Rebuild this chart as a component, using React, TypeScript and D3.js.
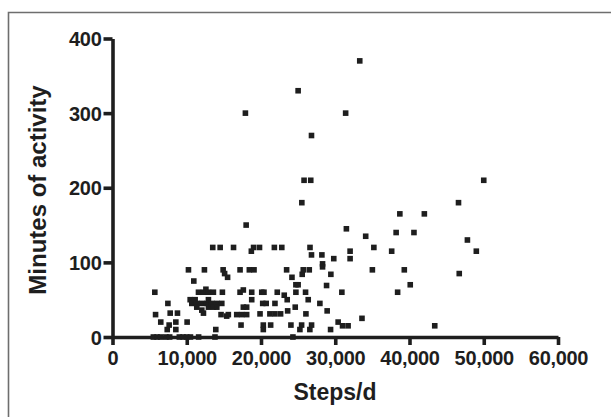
import React, { useEffect, useRef } from "react";
import * as d3 from "d3";

const W = 611, H = 417;

// steps per day
const steps = [
  5500, 6000, 6500, 7200, 7700, 9000, 9500, 10000, 10500, 11600, 13800, 24300,
  5700, 5800, 6500, 7460, 7370, 7630, 7770, 8530, 8750, 8530, 10050, 10230,
  10460, 10680, 10950, 11130, 11350, 11350, 11580, 12030, 12030, 12250, 12250, 12380,
  12700, 12580, 12920, 12920, 12920, 13370, 13500, 13590, 13590, 13910, 14050, 14050,
  14500, 14620, 14720, 14800, 14900, 15100, 15380, 15600, 15500, 16300, 16730, 17180,
  17180, 17310, 17400, 17620, 17620, 17900, 18000, 18070, 18070, 18430, 18700, 18750,
  18750, 19000, 19060, 19800, 19870, 20100, 20310, 20310, 20400, 20230, 20700, 21300,
  21200, 21880, 21800, 21880, 22190, 22640, 22800, 23130, 23450, 23530, 23590, 24030,
  24170, 24610, 24700, 25000, 24700, 25000, 25550, 25500, 25690, 25800, 26000, 25470,
  25240, 26050, 26360, 26500, 26580, 26600, 26700, 26810, 26800, 26800, 27930, 28200,
  28290, 28290, 28910, 28830, 29370, 29410, 29800, 30390, 30890, 30980, 31400, 31500,
  31730, 32000, 32000, 33300, 33600, 34100, 35000, 35200, 37600, 38200, 38400, 38700,
  39300, 40100, 40600, 42000, 43400, 46600, 46700, 47800, 49000, 50000,
];

// minutes of activity
const minutes = [
  0, 0, 0, 0, 0, 0, 0, 0, 0, 0, 0, 0,
  60, 30, 20, 45, 10, 16, 32, 20, 32, 10, 20, 90,
  50, 45, 75, 50, 45, 40, 60, 36, 45, 32, 60, 90,
  45, 64, 60, 50, 40, 45, 120, 60, 40, 10, 45, 40,
  120, 30, 45, 60, 90, 85, 28, 30, 80, 120, 30, 90,
  60, 16, 30, 63, 40, 300, 150, 30, 40, 90, 115, 50,
  60, 120, 90, 120, 31, 60, 16, 10, 60, 45, 45, 16,
  31, 45, 120, 31, 60, 31, 120, 56, 90, 50, 35, 16,
  80, 40, 70, 70, 60, 330, 84, 180, 90, 210, 60, 16,
  10, 31, 50, 90, 10, 120, 210, 16, 270, 110, 45, 110,
  98, 94, 35, 69, 10, 84, 105, 20, 60, 15, 300, 145,
  15, 115, 105, 370, 25, 135, 90, 120, 115, 140, 60, 165,
  90, 70, 140, 165, 15, 180, 85, 130, 115, 210,
];

const xTicks = [0, 10000, 20000, 30000, 40000, 50000, 60000];
const yTicks = [0, 100, 200, 300, 400];

const FONT = "'Liberation Sans', Arial, sans-serif";
const INK = "#1e1e1e";

export default function App() {
  const ref = useRef<SVGSVGElement>(null);

  useEffect(() => {
    const svg = d3.select(ref.current);
    svg.selectAll("*").remove();

    const x = d3.scaleLinear().domain([0, 60000]).range([112.5, 558]);
    const y = d3.scaleLinear().domain([0, 400]).range([337, 38.5]);

    // frame (top and left edges only)
    svg.append("path")
      .attr("d", `M8.5,${H} V12.5 H${W}`)
      .attr("fill", "none")
      .attr("stroke", "#6e6e6e")
      .attr("stroke-width", 1.6);

    const fmt = d3.format(",");

    const gx = svg.append("g")
      .attr("transform", `translate(0,${y(0)})`)
      .call(d3.axisBottom(x).tickValues(xTicks).tickSize(8).tickSizeOuter(0).tickPadding(6)
        .tickFormat(d => fmt(d as number)));

    const gy = svg.append("g")
      .attr("transform", `translate(${x(0)},0)`)
      .call(d3.axisLeft(y).tickValues(yTicks).tickSize(9).tickSizeOuter(0).tickPadding(2));

    [gx, gy].forEach(g => {
      g.select(".domain").attr("stroke", INK).attr("stroke-width", 3.6);
      g.selectAll(".tick line").attr("stroke", INK).attr("stroke-width", 3.6);
      g.selectAll(".tick text")
        .attr("fill", INK)
        .attr("font-family", FONT)
        .attr("font-weight", "bold")
        .attr("font-size", 20)
        .attr("letter-spacing", -0.3);
    });
    gx.selectAll(".tick text").attr("dy", "0.68em");
    gy.selectAll(".tick text").attr("dy", "0.36em");

    svg.append("g")
      .selectAll("rect")
      .data(steps.map((s, i) => [s, minutes[i]]))
      .join("rect")
      .attr("x", d => x(d[0]) - 2.8)
      .attr("y", d => y(d[1]) - 2.8)
      .attr("width", 5.6)
      .attr("height", 5.6)
      .attr("fill", INK);

    svg.append("text")
      .attr("x", 335)
      .attr("y", 400)
      .attr("text-anchor", "middle")
      .attr("font-family", FONT)
      .attr("font-weight", "bold")
      .attr("font-size", 23)
      .attr("fill", INK)
      .text("Steps/d");

    svg.append("text")
      .attr("transform", "translate(46,190) rotate(-90)")
      .attr("text-anchor", "middle")
      .attr("font-family", FONT)
      .attr("font-weight", "bold")
      .attr("font-size", 24)
      .attr("fill", INK)
      .text("Minutes of activity");
  }, []);

  return (
    <svg
      ref={ref}
      width={W}
      height={H}
      style={{ position: "absolute", left: 0, top: 0, background: "#fff" }}
    />
  );
}
